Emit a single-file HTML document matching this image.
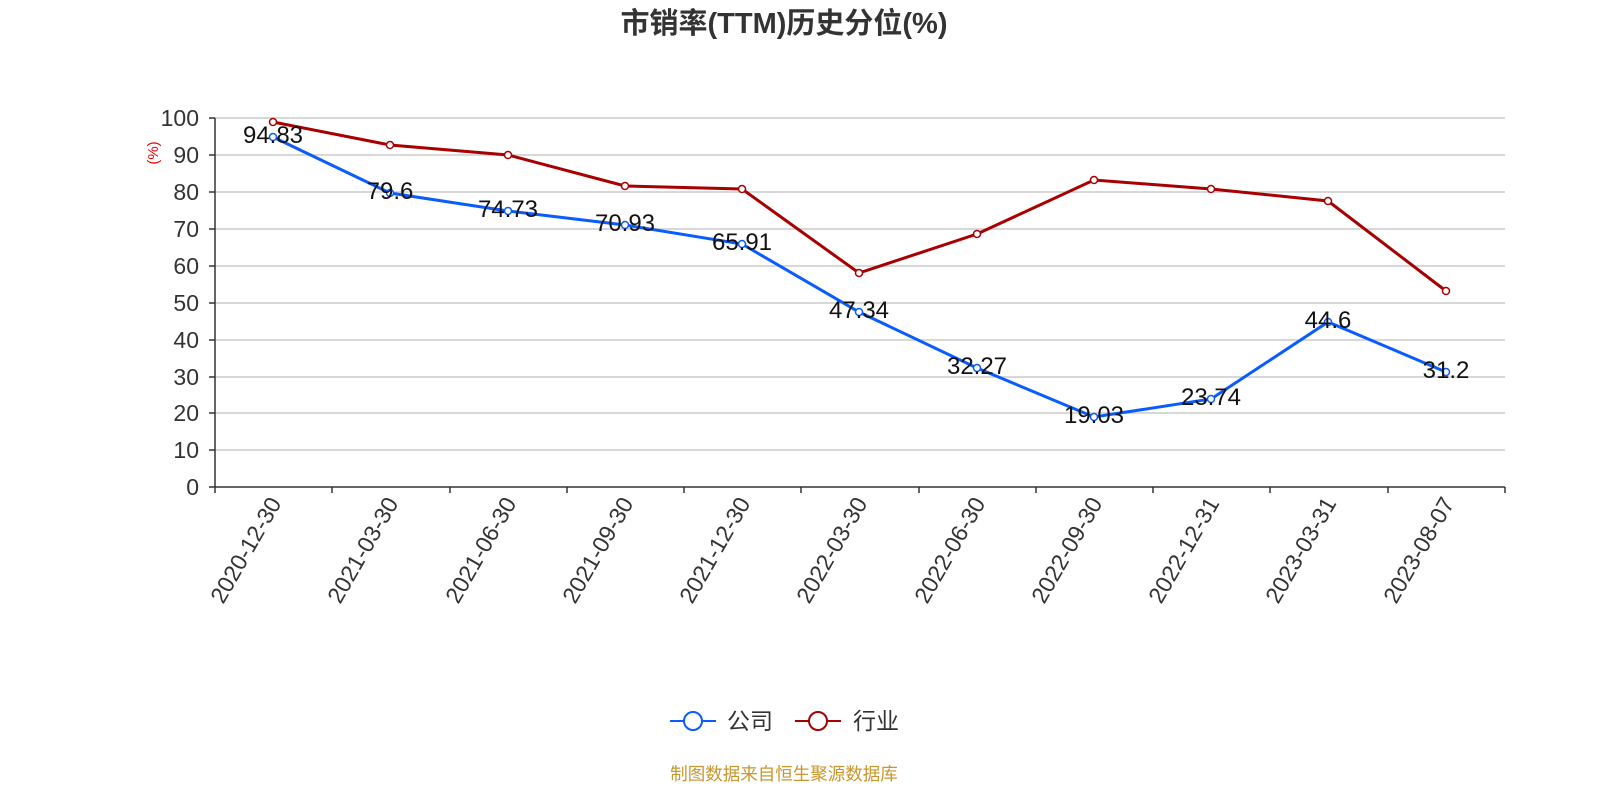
<!DOCTYPE html>
<html><head><meta charset="utf-8"><style>
html,body{margin:0;padding:0;background:#fff;width:1600px;height:800px;overflow:hidden}
text{font-family:"Liberation Sans","Noto Sans CJK SC",sans-serif}
</style></head><body>
<svg width="1600" height="800" xmlns="http://www.w3.org/2000/svg">
<text x="784" y="33" text-anchor="middle" font-size="29" font-weight="bold" fill="#333">市销率(TTM)历史分位(%)</text>
<g stroke="#ccc" stroke-width="1.5">
<line x1="215" x2="1505" y1="118" y2="118"/><line x1="215" x2="1505" y1="155" y2="155"/>
<line x1="215" x2="1505" y1="192" y2="192"/><line x1="215" x2="1505" y1="229" y2="229"/>
<line x1="215" x2="1505" y1="266" y2="266"/><line x1="215" x2="1505" y1="303" y2="303"/>
<line x1="215" x2="1505" y1="340" y2="340"/><line x1="215" x2="1505" y1="377" y2="377"/>
<line x1="215" x2="1505" y1="413" y2="413"/><line x1="215" x2="1505" y1="450" y2="450"/>
</g>
<g stroke="#333" stroke-width="1.5">
<line x1="215" x2="215" y1="118" y2="487"/>
<line x1="209" x2="215" y1="118" y2="118"/><line x1="209" x2="215" y1="155" y2="155"/><line x1="209" x2="215" y1="192" y2="192"/><line x1="209" x2="215" y1="229" y2="229"/><line x1="209" x2="215" y1="266" y2="266"/><line x1="209" x2="215" y1="303" y2="303"/><line x1="209" x2="215" y1="340" y2="340"/><line x1="209" x2="215" y1="377" y2="377"/><line x1="209" x2="215" y1="413" y2="413"/><line x1="209" x2="215" y1="450" y2="450"/><line x1="209" x2="215" y1="487" y2="487"/>
<line x1="215" x2="1505" y1="487" y2="487"/>
<line x1="215" x2="215" y1="487" y2="493"/><line x1="332" x2="332" y1="487" y2="493"/><line x1="450" x2="450" y1="487" y2="493"/><line x1="567" x2="567" y1="487" y2="493"/><line x1="684" x2="684" y1="487" y2="493"/><line x1="801" x2="801" y1="487" y2="493"/><line x1="919" x2="919" y1="487" y2="493"/><line x1="1036" x2="1036" y1="487" y2="493"/><line x1="1153" x2="1153" y1="487" y2="493"/><line x1="1270" x2="1270" y1="487" y2="493"/><line x1="1388" x2="1388" y1="487" y2="493"/><line x1="1505" x2="1505" y1="487" y2="493"/>
</g>
<g font-size="23" fill="#333" text-anchor="end">
<text x="199" y="126">100</text><text x="199" y="163">90</text><text x="199" y="200">80</text><text x="199" y="237">70</text><text x="199" y="274">60</text><text x="199" y="311">50</text><text x="199" y="348">40</text><text x="199" y="385">30</text><text x="199" y="421">20</text><text x="199" y="458">10</text><text x="199" y="495">0</text>
</g>
<text transform="translate(158,153) rotate(-90)" text-anchor="middle" font-size="15" fill="#e00">(%)</text>
<g font-size="23" fill="#333" text-anchor="end">
<text transform="translate(282,503) rotate(-60)">2020-12-30</text>
<text transform="translate(399,503) rotate(-60)">2021-03-30</text>
<text transform="translate(517,503) rotate(-60)">2021-06-30</text>
<text transform="translate(634,503) rotate(-60)">2021-09-30</text>
<text transform="translate(751,503) rotate(-60)">2021-12-30</text>
<text transform="translate(868,503) rotate(-60)">2022-03-30</text>
<text transform="translate(986,503) rotate(-60)">2022-06-30</text>
<text transform="translate(1103,503) rotate(-60)">2022-09-30</text>
<text transform="translate(1220,503) rotate(-60)">2022-12-31</text>
<text transform="translate(1337,503) rotate(-60)">2023-03-31</text>
<text transform="translate(1455,503) rotate(-60)">2023-08-07</text>
</g>
<polyline fill="none" stroke="#a80000" stroke-width="3" points="273,122 390,145 508,155 625,186 742,189 859,273 977,234 1094,180 1211,189 1328,201 1446,291"/>
<polyline fill="none" stroke="#0a5cff" stroke-width="3" points="273,137 390,193 508,211 625,225 742,244 859,312 977,368 1094,417 1211,399 1328,322 1446,372"/>
<g fill="#fff" stroke="#a80000" stroke-width="1.5">
<circle cx="273" cy="122" r="3.5"/><circle cx="390" cy="145" r="3.5"/><circle cx="508" cy="155" r="3.5"/><circle cx="625" cy="186" r="3.5"/><circle cx="742" cy="189" r="3.5"/><circle cx="859" cy="273" r="3.5"/><circle cx="977" cy="234" r="3.5"/><circle cx="1094" cy="180" r="3.5"/><circle cx="1211" cy="189" r="3.5"/><circle cx="1328" cy="201" r="3.5"/><circle cx="1446" cy="291" r="3.5"/>
</g>
<g fill="#fff" stroke="#0a5cff" stroke-width="1.5">
<circle cx="273" cy="137" r="3.5"/><circle cx="390" cy="193" r="3.5"/><circle cx="508" cy="211" r="3.5"/><circle cx="625" cy="225" r="3.5"/><circle cx="742" cy="244" r="3.5"/><circle cx="859" cy="312" r="3.5"/><circle cx="977" cy="368" r="3.5"/><circle cx="1094" cy="417" r="3.5"/><circle cx="1211" cy="399" r="3.5"/><circle cx="1328" cy="322" r="3.5"/><circle cx="1446" cy="372" r="3.5"/>
</g>
<g font-size="24" fill="#111" text-anchor="middle">
<text x="273" y="143">94.83</text><text x="390" y="199">79.6</text><text x="508" y="217">74.73</text><text x="625" y="231">70.93</text><text x="742" y="250">65.91</text><text x="859" y="318">47.34</text><text x="977" y="374">32.27</text><text x="1094" y="423">19.03</text><text x="1211" y="405">23.74</text><text x="1328" y="328">44.6</text><text x="1446" y="378">31.2</text>
</g>
<line x1="670" x2="716" y1="721" y2="721" stroke="#0a5cff" stroke-width="2"/>
<circle cx="693" cy="721" r="9" fill="#fff" stroke="#0a5cff" stroke-width="2"/>
<text x="727" y="729" font-size="23" fill="#333">公司</text>
<line x1="795" x2="841" y1="721" y2="721" stroke="#a80000" stroke-width="2"/>
<circle cx="818" cy="721" r="9" fill="#fff" stroke="#a80000" stroke-width="2"/>
<text x="853" y="729" font-size="23" fill="#333">行业</text>
<text x="784" y="780" text-anchor="middle" font-size="17.5" fill="#c8962a">制图数据来自恒生聚源数据库</text>
</svg>
</body></html>
